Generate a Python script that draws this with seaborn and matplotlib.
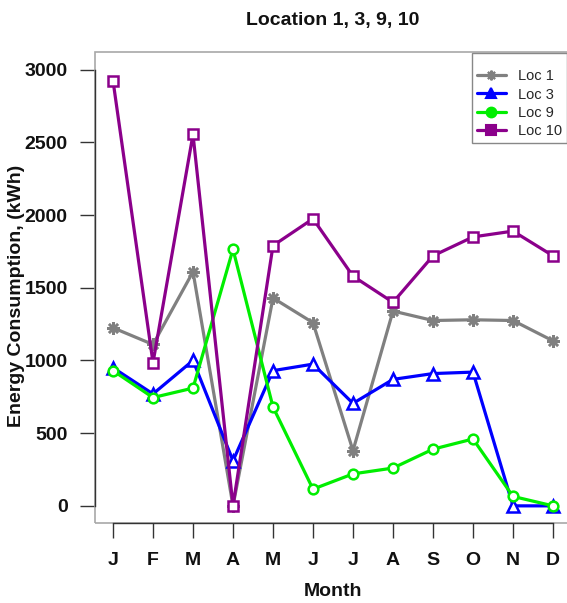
import matplotlib
matplotlib.use('Agg')
import matplotlib.pyplot as plt
import seaborn as sns
import numpy as np
from matplotlib.lines import Line2D
from matplotlib.patches import Rectangle

# ---- data ----
months = ['J', 'F', 'M', 'A', 'M', 'J', 'J', 'A', 'S', 'O', 'N', 'D']
loc1 = [1225, 1110, 1610, 0, 1430, 1260, 380, 1340, 1275, 1280, 1275, 1135]
loc3 = [950, 770, 1000, 310, 930, 975, 705, 870, 910, 920, 0, 0]
loc9 = [930, 745, 810, 1765, 680, 115, 220, 260, 390, 460, 65, 0]
loc10 = [2925, 985, 2555, 0, 1790, 1975, 1580, 1400, 1720, 1850, 1890, 1720]
series_names = ['Loc 1', 'Loc 3', 'Loc 9', 'Loc 10']
yticks = [0, 500, 1000, 1500, 2000, 2500, 3000]
title = 'Location 1, 3, 9, 10'
xlabel = 'Month'
ylabel = 'Energy Consumption, (kWh)'

colors = ['#808080', '#0000FF', '#00EE00', '#8B008B']
markers = [(8, 2, 0), '^', 'o', 's']
marker_sizes = [9, 8, 7, 7]
legend_markers = [(8, 2, 0), '^', 'o', 's']

sns.set_theme(style='white')
plt.rcParams['font.family'] = ['Liberation Sans', 'DejaVu Sans']

W, H = 567, 603
fig = plt.figure(figsize=(W / 100, H / 100), dpi=100)
ax = fig.add_axes([95.4 / W, (H - 523.3) / H, (570.6 - 95.4) / W, (523.3 - 52.3) / H])

x = np.arange(1, len(months) + 1)
all_series = [loc1, loc3, loc9, loc10]
for vals, name, col, mk, ms in zip(all_series, series_names, colors, markers, marker_sizes):
    sns.lineplot(x=x, y=vals, ax=ax, color=col, marker=mk, linewidth=2.3,
                 markersize=ms, markerfacecolor='white', markeredgecolor=col,
                 markeredgewidth=1.8, legend=False, sort=False, zorder=3)

ax.set_xlim(0.56, 12.44)
ax.set_ylim(-120, 3120)
ax.set_xticks(x)
ax.set_xticklabels(months)
ax.set_yticks(yticks)
ax.set_yticklabels([str(v) for v in yticks])
ax.set_xlabel('')
ax.set_ylabel('')

for s in ['top', 'right']:
    ax.spines[s].set_visible(False)
ax.spines['left'].set_bounds(0, 3000)
ax.spines['bottom'].set_bounds(1, 12)
for s in ['left', 'bottom']:
    ax.spines[s].set_color('#333333')
    ax.spines[s].set_linewidth(1.0)
    ax.spines[s].set_zorder(5)

box = Rectangle((0, 0), 1, 1, transform=ax.transAxes, fill=False,
                edgecolor='#A8A8A8', linewidth=1.2, zorder=4, clip_on=False)
ax.add_patch(box)

ax.tick_params(axis='y', length=11, width=1.0, color='#333333', pad=9,
               labelsize=14, left=True)
ax.tick_params(axis='x', length=11, width=1.0, color='#333333', pad=10,
               labelsize=14, bottom=True)
for lab in ax.get_xticklabels() + ax.get_yticklabels():
    lab.set_fontweight('bold')
    lab.set_color('#111111')

fig.text(333 / W, 1 - 20 / H, title, ha='center', va='center',
         fontsize=14, fontweight='bold', color='#111111')
fig.text(333 / W, 1 - 592 / H, xlabel, ha='center', va='center',
         fontsize=14, fontweight='bold', color='#111111')
fig.text(17 / W, 1 - 296 / H, ylabel, ha='center', va='center', rotation=90,
         fontsize=14, fontweight='bold', color='#111111')

handles = [Line2D([0], [0], color=c, marker=m, linewidth=2.3, markersize=7,
                  markerfacecolor=c, markeredgecolor=c, markeredgewidth=1.5)
           for c, m in zip(colors, legend_markers)]
leg = ax.legend(handles, series_names, loc='upper left',
                bbox_to_anchor=(471.7 / W, 1 - 52.7 / H),
                bbox_transform=fig.transFigure, frameon=True, fancybox=False,
                edgecolor='#888888', framealpha=1, fontsize=10.5,
                handlelength=2.0, handletextpad=0.8, borderpad=0.35,
                labelspacing=0.3, borderaxespad=0,
                title=' ', title_fontsize=5)
leg.get_frame().set_linewidth(1.0)
leg.set_zorder(10)

fig.savefig('out.png', dpi=100)
